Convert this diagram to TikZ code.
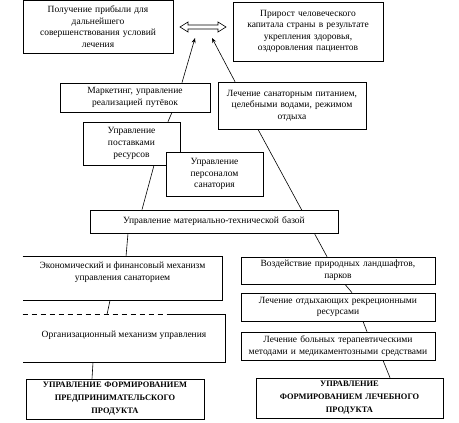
\documentclass[tikz,border=0pt]{standalone}
\usepackage{fontspec}
\setmainfont{Liberation Serif}
\usetikzlibrary{arrows.meta,calc}
\pgfdeclarelayer{background}
\pgfsetlayers{background,main}
\begin{document}
\begin{tikzpicture}[x=1pt,y=-1pt,line width=0.7pt,
  box/.style={draw,fill=white,inner sep=0pt,align=center,font=\fontsize{9.5}{11.6}\selectfont},
  openbox/.style={inner sep=0pt,font=\fontsize{9.5}{11.6}\selectfont},
  capbox/.style={box,font=\fontsize{8.4}{13}\selectfont\bfseries},
  conn/.style={line width=0.6pt},
  uparrow/.style={conn,-{Stealth[length=5pt,width=4pt]}}]
\useasboundingbox (0,0) rectangle (459,423);

\node[box,minimum width=150pt,minimum height=52.5pt,text width=146pt] (b1) at (98,26.75)
  {Получение прибыли для\\ дальнейшего\\ совершенствования условий\\ лечения};
\node[box,minimum width=150pt,minimum height=59pt,text width=146pt] (b2) at (308,31.5)
  {Прирост человеческого\\ капитала страны в результате\\ укрепления здоровья,\\ оздоровления пациентов};
\node[box,minimum width=150pt,minimum height=29pt,text width=146pt] (mk) at (135,97.5)
  {Маркетинг, управление\\ реализацией путёвок};
\node[box,minimum width=148pt,minimum height=47pt,text width=146pt] (lech) at (292,105.5)
  {Лечение санаторным питанием,\\ целебными водами, режимом\\ отдыха};
\node[box,minimum width=97pt,minimum height=43pt,text width=93pt] (post) at (131.5,143.5)
  {Управление\\ поставками\\ ресурсов};
\node[box,minimum width=97pt,minimum height=44pt,text width=93pt] (pers) at (214.5,174)
  {Управление\\ персоналом\\ санатория};
\node[box,minimum width=248pt,minimum height=23pt,text width=244pt] (mt) at (214,221.5)
  {Управление материально-технической базой};
\node[openbox] (ek) at (122.5,278.5)
  {\begin{minipage}[c][43pt][t]{199pt}\centering\vspace{5pt}Экономический и финансовый механизм\\ управления санаторием\end{minipage}};
\node[openbox] (org) at (124,338.5)
  {\begin{minipage}[c][47pt][t]{202pt}\centering\vspace{16pt}Организационный механизм управления\end{minipage}};
\node[capbox,minimum width=178pt,minimum height=40pt,text width=174pt] (bl) at (115,399)
  {УПРАВЛЕНИЕ ФОРМИРОВАНИЕМ\\ ПРЕДПРИНИМАТЕЛЬСКОГО\\ ПРОДУКТА};
\node[box,minimum width=194pt,minimum height=27pt,text width=192pt] (vz) at (338,270.5)
  {Воздействие природных ландшафтов,\\ парков};
\node[box,minimum width=194pt,minimum height=28pt,text width=192pt] (ot) at (338,307)
  {Лечение отдыхающих рекреционными\\ ресурсами};
\node[box,minimum width=194pt,minimum height=28pt,text width=194pt] (bo) at (338,346)
  {Лечение больных терапевтическими\\ методами и медикаментозными средствами};
\node[capbox,minimum width=187pt,minimum height=40pt,text width=183pt] (br) at (349.5,398)
  {УПРАВЛЕНИЕ\\ ФОРМИРОВАНИЕМ ЛЕЧЕБНОГО\\ ПРОДУКТА};

% open frames
\draw (ek.north west) -- (ek.north east) -- (ek.south east) -- (ek.south west);
\draw[dash pattern=on 5pt off 4pt] (org.north west) -- ([xshift=-55pt]org.north east);
\draw ([xshift=-55pt]org.north east) -- (org.north east) -- (org.south east) -- (org.south west);

% double arrow
\draw[fill=white,line width=0.6pt] (180,27) -- (188,22) -- (188,25) -- (218,25) -- (218,22) -- (226,27)
  -- (218,32) -- (218,29) -- (188,29) -- (188,32) -- cycle;

\coordinate (tipL) at (195,38);
\coordinate (tipR) at (212,38);
\draw[uparrow] ([xshift=47pt]mk.north) -- (tipL);
\draw[uparrow] ([xshift=-57pt]lech.north) -- (tipR);

\begin{pgfonlayer}{background}
\draw[conn] ([xshift=37pt]mk.south) -- ([xshift=36.5pt]post.north);
\draw[conn] ([xshift=22.5pt]post.south) -- ([xshift=-72pt]mt.north);
\draw[conn] ([xshift=-86pt]mt.south) -- ([xshift=3.5pt]ek.north);
\draw[conn] ([xshift=-12.5pt]ek.south) -- ([xshift=-17pt]org.north);
\draw[conn] ([xshift=-31pt]org.south) -- ([xshift=-23pt]bl.north);
\draw[conn] ([xshift=-34pt]lech.south) -- ([xshift=-11pt]vz.north);
\draw[conn] ([xshift=7pt]vz.south) -- ([xshift=14pt]ot.north);
\draw[conn] ([xshift=25pt]ot.south) -- ([xshift=29pt]bo.north);
\draw[conn] ([xshift=45pt]bo.south) -- ([xshift=40.5pt]br.north);
\end{pgfonlayer}
\end{tikzpicture}
\end{document}
